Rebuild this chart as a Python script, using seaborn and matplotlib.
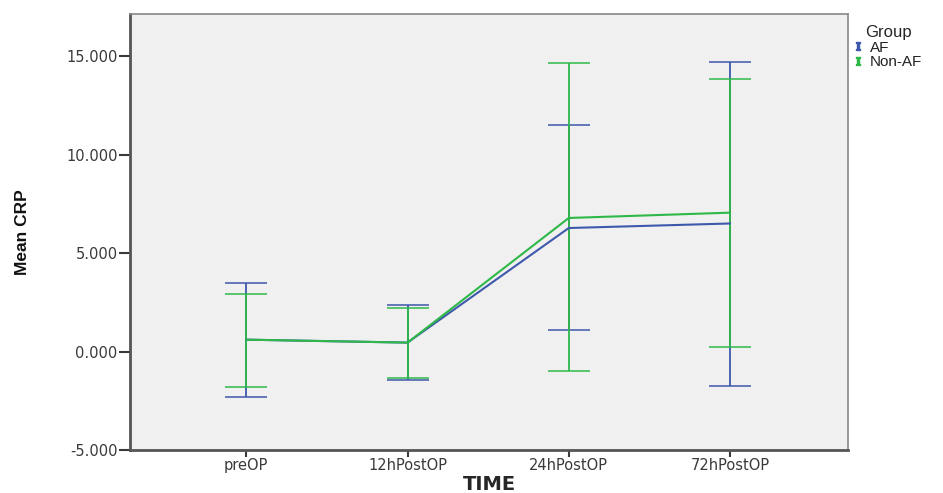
import numpy as np
import pandas as pd
import seaborn as sns
import matplotlib.pyplot as plt
from matplotlib.lines import Line2D

times = ["preOP", "12hPostOP", "24hPostOP", "72hPostOP"]
groups = ["AF", "Non-AF"]

af_mean = [0.61, 0.46, 6.28, 6.51]
af_low = [-2.28, -1.42, 1.10, -1.74]
af_high = [3.50, 2.39, 11.49, 14.72]

naf_mean = [0.61, 0.46, 6.79, 7.06]
naf_low = [-1.78, -1.32, -1.00, 0.24]
naf_high = [2.94, 2.23, 14.65, 13.87]

colors = {"AF": "#3E58AC", "Non-AF": "#2EB848"}

df = pd.DataFrame({
    "TIME": times * 2,
    "pos": list(range(len(times))) * 2,
    "Group": ["AF"] * 4 + ["Non-AF"] * 4,
    "mean": af_mean + naf_mean,
    "low": af_low + naf_low,
    "high": af_high + naf_high,
})

sns.set_style("white")
plt.rcParams["font.family"] = ["DejaVu Sans"]

fig = plt.figure(figsize=(9.43, 4.93), dpi=100)
ax = fig.add_axes([0.138, 0.087, 0.761, 0.885])
ax.set_facecolor("#F0F0F0")

# error bars first, mean lines drawn on top
for g in groups:
    d = df[df["Group"] == g]
    ax.errorbar(d["pos"], d["mean"],
                yerr=[d["mean"] - d["low"], d["high"] - d["mean"]],
                fmt="none", ecolor=colors[g], elinewidth=1.3,
                capsize=15, capthick=1.1, zorder=2)

sns.lineplot(data=df, x="pos", y="mean", hue="Group", palette=colors,
             hue_order=groups, linewidth=1.5, ax=ax, legend=False,
             zorder=3)

ax.set_xlim(-0.72, 3.73)
ax.set_ylim(-5, 17.16)
ax.set_xticks(range(len(times)))
ax.set_xticklabels(times)
ax.set_yticks([-5, 0, 5, 10, 15])
ax.set_yticklabels(["%.3f" % v for v in [-5, 0, 5, 10, 15]])
ax.tick_params(axis="y", direction="out", length=8, width=1.5,
               labelsize=10.5, colors="#3a3a3a", left=True, pad=1)
ax.tick_params(axis="x", direction="out", length=5, width=1.5,
               labelsize=10.5, colors="#3a3a3a", bottom=True, pad=1)

for s in ["left", "bottom"]:
    ax.spines[s].set_color("#555555")
    ax.spines[s].set_linewidth(2)
for s in ["top", "right"]:
    ax.spines[s].set_color("#888888")
    ax.spines[s].set_linewidth(1.2)

ax.set_xlabel("TIME", fontsize=14, fontweight="bold", labelpad=1)
ax.set_ylabel("Mean CRP", fontsize=12.5, fontweight="bold", labelpad=26,
              family="Liberation Sans", color="#111111")

handles = [Line2D([], [], linestyle="none", marker="$\\mathtt{I}$",
                  markersize=6, color=colors[g]) for g in groups]
leg = fig.legend(handles, groups, title="Group", loc="upper left",
                 bbox_to_anchor=(0.898, 0.962), frameon=False, fontsize=11,
                 title_fontsize=12, handletextpad=0.5, labelspacing=0.05,
                 handlelength=0.6, borderaxespad=0)
leg._legend_box.align = "left"
plt.setp(leg.get_texts(), family="Liberation Sans", color="#222222")
leg.get_title().set_family("Liberation Sans")
leg.get_title().set_position((12, 0))

fig.savefig("out.png", dpi=100)
